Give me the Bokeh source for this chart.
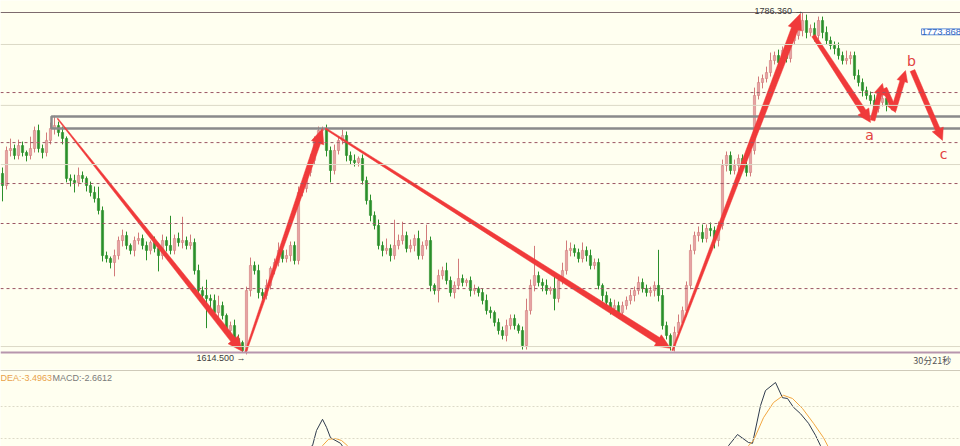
import math
from bokeh.plotting import figure
from bokeh.layouts import column
from bokeh.models import Label, Range1d, Span, ColumnDataSource
from bokeh.embed import file_html
from bokeh.resources import INLINE

# ---------------- data ----------------
first_open = 1705.0
close = [
    1698.9, 1716.6, 1717.6, 1714.1, 1719.1, 1715.6, 1714.1, 1717.6, 1726.7, 1717.6,
    1715.6, 1721.7, 1727.7, 1729.2, 1725.7, 1722.7, 1702.5, 1701.4, 1700.4, 1704.0,
    1702.5, 1698.9, 1695.4, 1692.3, 1686.3, 1663.5, 1662.0, 1660.0, 1663.5, 1671.1,
    1673.6, 1668.6, 1666.1, 1671.1, 1672.1, 1668.6, 1666.1, 1670.1, 1667.1, 1663.5,
    1671.1, 1668.6, 1666.1, 1672.1, 1670.1, 1671.1, 1668.6, 1670.1, 1655.9, 1645.8,
    1643.3, 1641.8, 1640.8, 1634.7, 1638.2, 1633.2, 1625.6, 1628.1, 1621.6, 1619.5,
    1615.5, 1645.8, 1658.5, 1655.9, 1644.8, 1643.3, 1648.4, 1657.0, 1660.0, 1666.1,
    1662.0, 1663.5, 1668.6, 1661.0, 1695.4, 1697.4, 1705.5, 1711.6, 1721.7, 1726.7,
    1727.7, 1716.6, 1706.5, 1716.6, 1721.7, 1724.2, 1714.1, 1711.6, 1710.5, 1712.6,
    1701.4, 1691.3, 1683.8, 1678.7, 1668.6, 1666.1, 1667.1, 1663.5, 1668.6, 1671.1,
    1673.6, 1667.1, 1668.6, 1672.1, 1663.5, 1668.6, 1671.1, 1648.4, 1645.8, 1653.4,
    1655.9, 1650.9, 1644.8, 1648.4, 1651.9, 1649.9, 1650.9, 1645.8, 1646.8, 1644.8,
    1640.8, 1635.7, 1634.7, 1629.7, 1625.6, 1623.1, 1628.1, 1631.7, 1628.1, 1625.6,
    1618.0, 1635.7, 1648.4, 1653.4, 1649.9, 1648.4, 1645.8, 1646.8, 1641.8, 1650.9,
    1655.9, 1666.1, 1667.1, 1665.0, 1662.0, 1666.1, 1663.5, 1658.5, 1660.0, 1648.4,
    1643.3, 1639.8, 1636.7, 1638.2, 1634.7, 1638.2, 1640.8, 1643.3, 1645.8, 1649.9,
    1646.8, 1644.8, 1645.8, 1648.4, 1643.3, 1628.1, 1623.1, 1618.0, 1624.6, 1629.7,
    1635.7, 1648.4, 1666.1, 1673.6, 1675.2, 1672.1, 1677.2, 1676.2, 1671.1, 1678.7,
    1709.0, 1714.1, 1706.5, 1709.0, 1712.6, 1709.0, 1705.5, 1716.6, 1744.4, 1751.0,
    1753.0, 1756.0, 1762.1, 1764.6, 1761.1, 1767.2, 1763.1, 1772.2, 1774.7, 1777.3,
    1782.3, 1776.3, 1778.3, 1774.7, 1782.3, 1776.3, 1772.2, 1769.7, 1768.2, 1764.6,
    1762.1, 1763.1, 1764.6, 1754.5, 1751.0, 1746.9, 1744.4, 1741.9, 1737.8, 1740.9,
    1742.9, 1739.4,
]
wick_up = [
    3, 2, 5, 2, 3, 2, 1, 6, 2, 3, 2, 4, 3, 5, 2, 3, 1, 2, 3, 4,
    2, 1, 2, 3, 6, 2, 2, 1, 3, 2, 3, 2, 1, 2, 3, 2, 2, 1, 3, 2,
    3, 2, 15, 2, 3, 12, 2, 4, 2, 3, 2, 8, 2, 3, 5, 2, 1, 2, 3, 2,
    1, 2, 4, 2, 3, 2, 3, 1, 2, 4, 2, 3, 2, 2, 3, 2, 2, 3, 2, 2,
    1, 2, 2, 3, 2, 3, 2, 2, 3, 1, 2, 2, 3, 2, 3, 2, 5, 2, 13, 3,
    7, 2, 3, 2, 4, 2, 8, 2, 1, 3, 2, 4, 2, 2, 10, 2, 1, 2, 2, 1,
    2, 3, 2, 1, 2, 2, 3, 2, 2, 1, 2, 6, 3, 15, 2, 2, 3, 1, 6, 2,
    4, 5, 3, 2, 2, 4, 2, 3, 2, 2, 1, 2, 2, 3, 2, 2, 2, 3, 2, 3,
    2, 2, 2, 2, 18, 3, 2, 1, 3, 4, 2, 2, 3, 2, 3, 4, 2, 3, 2, 2,
    3, 2, 2, 3, 2, 2, 2, 1, 4, 3, 2, 3, 4, 2, 3, 2, 3, 2, 3, 2,
    4.06, 3, 2, 3, 2, 2, 3, 2, 2, 3, 2, 4, 2, 2, 3, 2, 2, 2, 3, 2,
    2, 2,
]
wick_dn = [
    8, 2, 3, 2, 2, 2, 3, 2, 2, 2, 3, 2, 2, 3, 2, 3, 2, 3, 5, 2,
    2, 3, 2, 2, 2, 3, 2, 3, 7, 2, 3, 2, 2, 3, 2, 2, 5, 2, 2, 8,
    2, 3, 2, 2, 2, 3, 2, 2, 2, 3, 2, 15, 5, 2, 3, 2, 2, 3, 2, 2,
    1, 2, 3, 2, 3, 2, 2, 2, 3, 2, 2, 2, 3, 2, 2, 2, 2, 2, 2, 3,
    2, 3, 6, 2, 2, 2, 3, 2, 2, 2, 2, 2, 3, 2, 2, 3, 2, 3, 2, 2,
    2, 2, 2, 3, 2, 2, 2, 3, 2, 6, 2, 2, 2, 3, 2, 2, 2, 3, 2, 2,
    2, 2, 3, 2, 2, 2, 3, 2, 2, 1.5, 2, 2, 2, 3, 2, 3, 2, 2, 6, 2,
    2, 2, 3, 2, 2, 2, 3, 2, 2, 2, 3, 2, 3, 2, 3, 2, 2, 2, 3, 2,
    2, 2, 2, 3, 3, 2, 2, 2.5, 3, 2, 2, 3, 2, 2, 3, 2, 2, 3, 4, 3,
    2, 3, 2, 2, 3, 2, 2, 2, 2, 2, 3, 2, 2, 2, 2, 3, 2, 2, 2, 2,
    3, 3, 2, 3, 2, 3, 2, 2, 3, 2, 2, 2, 3, 2, 2, 3, 2, 2, 3, 2,
    2, 3,
]

high_mark = 1786.36
low_mark = 1614.5
dashed_levels = [1745.9, 1720.6, 1699.9, 1679.7, 1646.8]
light_levels = [1770.2, 1739.4, 1709.5, 1617.5]
zone_left = 12.25
zone_top = 1733.8
zone_bottom = 1727.7

current_price = "1773.868"
high_text = "1786.360 \u2192"
low_text = "1614.500 \u2192"
timer_text = "30分21秒"

# wave arrows (bar index, price)
arrow_x0 = [13.75, 60.75, 80.75, 167.5, 202.75, 217.5, 220.5, 222.75, 227.5]
arrow_y0 = [1732.8, 1614.5, 1727.7, 1615.5, 1774.7, 1731.8, 1748.0, 1736.8, 1757.0]
arrow_x1 = [60.0, 80.0, 167.0, 199.5, 217.0, 220.0, 223.25, 225.75, 235.0]
arrow_y1 = [1615.0, 1727.7, 1616.6, 1785.8, 1730.8, 1750.5, 1735.8, 1757.0, 1721.7]
wave_labels = ["a", "b", "c"]
wave_lx = [216.75, 227.25, 235.25]
wave_ly = [1724.2, 1761.6, 1714.6]

# MACD pane
macd_x = [60, 77.5, 78.5, 80, 81, 82, 84.5, 85.75, 100, 130, 160, 180.5, 181.5, 183.75,
          186.5, 187.5, 189.5, 190.75, 193.25, 195, 196.25, 197.75, 199.5, 201.5,
          203.25, 204.5, 205.5, 215, 240]
macd_v = [-5, -0.9, 1.0, 2.4, 1.4, 0.1, -0.6, -1.5, -6, -8, -5, -1.75, -0.9, 0.5,
          -0.5, -0.6, 4.1, 6.0, 7.0, 5.1, 5.0, 3.9, 3.1, 1.9,
          0.4, -0.9, -2.1, -5, -6]
dea_x = [60, 79, 80, 81.5, 83.25, 84.75, 86.25, 87.5, 110, 150, 185.5, 186.5, 187.75,
         190.25, 192.75, 195.25, 197.5, 200, 202.75, 205.25, 206.5, 207.5, 220, 240]
dea_v = [-4, -1.75, -0.9, -0.1, 0.0, -0.25, -0.9, -1.75, -5, -6, -1.75, -0.9, -0.25,
         2.6, 4.5, 5.4, 5.0, 3.75, 1.9, 0.1, -1.1, -2.1, -4, -3.5]
dea_text = "DEA:-3.4963"
macd_text = "MACD:-2.6612"

# ---------------- build ----------------
n = min(len(close), len(wick_up), len(wick_dn))
close = close[:n]
opens = [first_open] + close[:-1]
idx = list(range(n))
highs = [max(o, c) + w for o, c, w in zip(opens, close, wick_up[:n])]
lows = [min(o, c) - w for o, c, w in zip(opens, close, wick_dn[:n])]

BG = "#fffff0"
W, H1, H2 = 960, 369, 77
x_start, x_end = -0.5, 239.5
y_bot, y_top = 1605.90, 1792.43

xr = Range1d(x_start, x_end)
p = figure(width=W, height=H1, x_range=xr, y_range=Range1d(y_bot, y_top),
           output_backend="svg", toolbar_location=None, min_border=0)
p.axis.visible = False
p.grid.visible = False
p.outline_line_color = None
p.background_fill_color = BG
p.border_fill_color = BG

for lv in light_levels:
    p.add_layout(Span(location=lv, dimension="width", line_color="#dcd9c6", line_width=1))
for lv in dashed_levels:
    p.add_layout(Span(location=lv, dimension="width", line_color="#9b5563",
                      line_width=1, line_dash="3 3"))
p.add_layout(Span(location=high_mark, dimension="width", line_color="#7d6b6e", line_width=1))
p.add_layout(Span(location=low_mark, dimension="width", line_color="#b796ad", line_width=2))

up = [c >= o for o, c in zip(opens, close)]
cols = ["#e6a3a3" if u else "#2a8f2a" for u in up]
lcols = ["#d27a7a" if u else "#2a8f2a" for u in up]
src = ColumnDataSource(dict(x=idx, o=opens, c=close, h=highs, l=lows,
                            top=[max(a, b) for a, b in zip(opens, close)],
                            bot=[min(a, b) for a, b in zip(opens, close)],
                            fc=cols, lc=lcols))
p.segment(x0="x", y0="l", x1="x", y1="h", source=src, line_color="lc", line_width=1)
p.vbar(x="x", width=0.55, top="top", bottom="bot", source=src,
       fill_color="fc", line_color="lc", line_width=0.6)

# resistance zone rectangle
p.quad(left=[zone_left], right=[x_end + 10], top=[zone_top], bottom=[zone_bottom],
       fill_color=None, line_color="#8a8a8a", line_width=2.5)

# tapered arrows
SX = W / (x_end - x_start)
SY = H1 / (y_top - y_bot)
w0s = [1.0, 1.5, 1.5, 1.5, 4.0, 5.0, 5.0, 5.0, 5.0]
w1s = [6.0, 6.0, 6.5, 7.0, 6.0, 5.0, 5.0, 5.0, 5.0]
hls = [15, 15, 15, 16, 13, 11, 10, 11, 12]
hws = [13, 13, 13, 14, 13, 11, 10, 11, 12]


def arrow_poly(x0, y0, x1, y1, w0, w1, hl, hw):
    X0, Y0, X1, Y1 = x0 * SX, y0 * SY, x1 * SX, y1 * SY
    dx, dy = X1 - X0, Y1 - Y0
    L = math.hypot(dx, dy)
    ux, uy = dx / L, dy / L
    nx, ny = -uy, ux
    bx, by = X1 - ux * hl, Y1 - uy * hl
    pts = [(X0 + nx * w0 / 2, Y0 + ny * w0 / 2),
           (bx + nx * w1 / 2, by + ny * w1 / 2),
           (bx + nx * hw / 2, by + ny * hw / 2),
           (X1, Y1),
           (bx - nx * hw / 2, by - ny * hw / 2),
           (bx - nx * w1 / 2, by - ny * w1 / 2),
           (X0 - nx * w0 / 2, Y0 - ny * w0 / 2)]
    return [a / SX for a, _ in pts], [b / SY for _, b in pts]


xs, ys = [], []
for k in range(len(arrow_x0)):
    ax, ay = arrow_poly(arrow_x0[k], arrow_y0[k], arrow_x1[k], arrow_y1[k],
                        w0s[k], w1s[k], hls[k], hws[k])
    xs.append(ax)
    ys.append(ay)
p.patches(xs=xs, ys=ys, fill_color="#f03a3a", line_color="#f03a3a", line_width=0.5)

for t, lx, ly in zip(wave_labels, wave_lx, wave_ly):
    p.add_layout(Label(x=lx, y=ly, text=t, text_align="center", text_baseline="middle",
                       text_color="#e2433f", text_font="DejaVu Sans", text_font_size="14px"))

p.add_layout(Label(x=200.25, y=1786.9, text=high_text, text_align="right",
                   text_baseline="middle", text_color="#3a3a3a",
                   text_font="Liberation Sans", text_font_size="9px"))
p.add_layout(Label(x=60.75, y=1611.9, text=low_text, text_align="right",
                   text_baseline="middle", text_color="#3a3a3a",
                   text_font="Liberation Sans", text_font_size="9px"))
p.add_layout(Label(x=237.2, y=1610.2, text=timer_text, text_align="right",
                   text_baseline="middle", text_color="#555555",
                   text_font="Noto Sans CJK SC", text_font_size="9px"))
p.add_layout(Label(x=229.75, y=1776.6, text=current_price, text_align="left",
                   text_baseline="middle", text_color="#2f66c0",
                   text_font="Liberation Sans", text_font_size="9.5px",
                   border_line_color="#6a95d8", border_line_width=1,
                   background_fill_color="#ffffff"))

# MACD pane
q = figure(width=W, height=H2, x_range=xr, y_range=Range1d(-1.0, 8.625),
           output_backend="svg", toolbar_location=None, min_border=0)
q.axis.visible = False
q.grid.visible = False
q.outline_line_color = None
q.background_fill_color = BG
q.border_fill_color = BG
q.add_layout(Span(location=8.5, dimension="width", line_color="#cfcab9", line_width=1))
q.add_layout(Span(location=4.0, dimension="width", line_color="#dddac8", line_width=1,
                  line_dash="2 2"))
q.add_layout(Span(location=0.0, dimension="width", line_color="#dddac8", line_width=1,
                  line_dash="2 2"))
q.line(macd_x, macd_v, line_color="#2f3b4d", line_width=1)
q.line(dea_x, dea_v, line_color="#f2a640", line_width=1)
q.add_layout(Label(x=0, y=69, x_units="screen", y_units="screen", text=dea_text,
                   text_baseline="middle", text_color="#e9a24a",
                   text_font="Liberation Sans", text_font_size="9px"))
q.add_layout(Label(x=52, y=69, x_units="screen", y_units="screen", text=macd_text,
                   text_baseline="middle", text_color="#7a7a7a",
                   text_font="Liberation Sans", text_font_size="9px"))

layout = column(p, q, spacing=0)
open("out.html", "w").write(file_html(layout, INLINE))
